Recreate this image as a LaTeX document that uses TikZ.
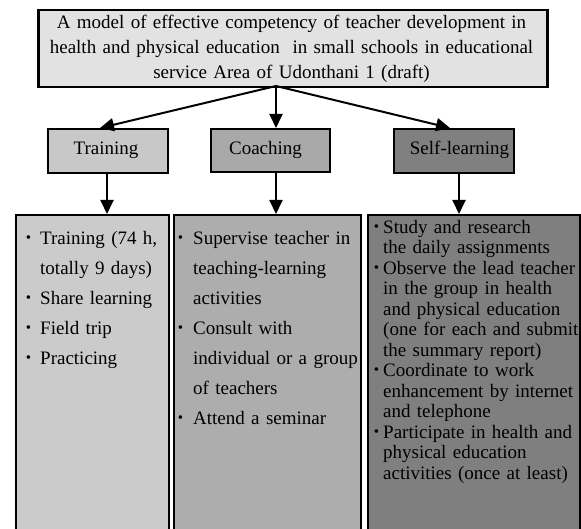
\documentclass[tikz,border=0pt]{standalone}
\usepackage{fontspec}
\setmainfont{Liberation Serif}
\usetikzlibrary{arrows.meta}
\definecolor{topc}{HTML}{E2E2E2}
\definecolor{trainc}{HTML}{C8C8C8}
\definecolor{coachc}{HTML}{A9A9A9}
\definecolor{selfc}{HTML}{808080}
\definecolor{listL}{HTML}{CBCBCB}
\definecolor{listM}{HTML}{ADADAD}
\definecolor{listR}{HTML}{7F7F7F}
\newcommand{\bul}[1][6pt]{\leavevmode\llap{\raisebox{2pt}{\fontsize{15}{15}\selectfont\textbullet}\hspace{#1}}\ignorespaces}
\begin{document}
\begin{tikzpicture}[x=1pt,y=-1pt,
  box/.style={draw=black, line width=2pt, inner sep=0pt, anchor=north west},
  arr/.style={line width=2pt, -{Triangle[length=14pt,width=13pt]}},
  lbl/.style={font=\fontsize{19}{25}\selectfont, inner sep=0pt},
  listtxt/.style={inner sep=0pt, anchor=north west, align=left}]
\useasboundingbox[fill=white] (0,0) rectangle (581,529);
% top box
\node[box, line width=2.5pt, fill=topc, minimum width=509pt, minimum height=77pt] (top) at (37,9) {};
\node[lbl, text width=500pt, align=center] (title) at (291.5,48.5)
  {A model of effective competency of teacher development in\\
   health and physical education\ \ in small schools in educational\\
   service Area of Udonthani 1 (draft)};
% middle boxes
\node[box, fill=trainc, minimum width=120pt, minimum height=44pt] (train) at (47,128) {};
\node[box, fill=coachc, minimum width=119pt, minimum height=43pt] (coach) at (210,128) {};
\node[box, fill=selfc, minimum width=120pt, minimum height=44pt] (self) at (393,128) {};
\node[lbl] (trainl) at (106,150) {Training};
\node[lbl] (coachl) at (265.5,150) {Coaching};
\node[lbl] (selfl) at (459.5,150) {Self-learning};
% list boxes
\node[box, fill=listL, minimum width=153pt, minimum height=330pt] (lst1) at (15,214) {};
\node[box, fill=listM, minimum width=187pt, minimum height=330pt] (lst2) at (173,214) {};
\node[box, fill=listR, minimum width=212pt, minimum height=330pt] (lst3) at (367,214) {};
% list texts
\node[listtxt, text width=140pt, font=\fontsize{19}{30}\selectfont] (t1) at (40,231)
  {\bul[9pt] Training (74 h,\\ totally 9 days)\\ \bul[9pt] Share learning\\ \bul[9pt] Field trip\\ \bul[9pt] Practicing};
\node[listtxt, text width=175pt, font=\fontsize{19}{30}\selectfont] (t2) at (193,231)
  {\bul[10pt] Supervise teacher in\\ teaching-learning\\ activities\\ \bul[10pt] Consult with\\ individual or a group\\ of teachers\\ \bul[10pt] Attend a seminar};
\node[listtxt, text width=215pt, font=\fontsize{19}{20.5}\selectfont] (t3) at (383,220)
  {\bul[4pt] Study and research\\ the daily assignments\\ \bul[4pt] Observe the lead teacher\\ in the group in health\\ and physical education\\ (one for each and submit\\ the summary report)\\ \bul[4pt] Coordinate to work\\ enhancement by internet\\ and telephone\\ \bul[4pt] Participate in health and\\ physical education\\ activities (once at least)};
% connectors
\coordinate (src) at (276,86);
\coordinate (tin) at (100,128);
\coordinate (sin) at (450,128);
\draw[arr] (src) -- (tin);
\draw[arr] (src) -- (src |- coach.north);
\draw[arr] (src) -- (sin);
\draw[arr] (train.south -| 107,0) -- (lst1.north -| 107,0);
\draw[arr] (coach.south -| src) -- (lst2.north -| src);
\draw[arr] (self.south -| 459,0) -- (lst3.north -| 459,0);
\end{tikzpicture}
\end{document}
